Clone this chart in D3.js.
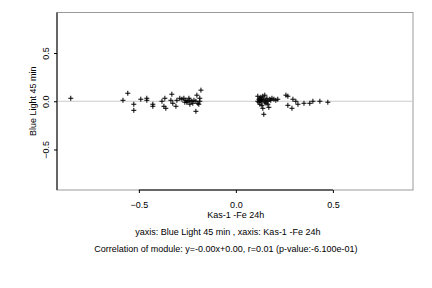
<!DOCTYPE html>
<html>
<head>
<meta charset="utf-8">
<script src="https://cdn.jsdelivr.net/npm/d3@7"></script>
<style>
  body { margin: 0; background: #fff; }
  svg { display: block; font-family: "Liberation Sans", Arial, sans-serif; }
  text { fill: #000; }
</style>
</head>
<body>
<svg id="chart" width="432" height="288"></svg>
<script>
const width = 432;
const height = 288;
const margin = { top: 12.5, right: 19, bottom: 98, left: 57 };

const xLabel = "Kas-1 -Fe 24h";
const yLabel = "Blue Light 45 min";
const subtitle = "yaxis: Blue Light 45 min , xaxis: Kas-1 -Fe 24h";
const corrText = "Correlation of module: y=-0.00x+0.00, r=0.01 (p-value:-6.100e-01)";

const xTicks = [-0.5, 0, 0.5];
const yTicks = [-0.5, 0, 0.5];

// [x, y] pairs
const leftCluster = [
  [-0.851, 0.031], [-0.582, 0.010], [-0.557, 0.083], [-0.526, -0.031], [-0.526, -0.094],
  [-0.490, 0.021], [-0.459, 0.031], [-0.459, 0.010], [-0.428, -0.031], [-0.428, -0.052],
  [-0.381, 0.000], [-0.366, 0.031], [-0.371, -0.052], [-0.361, -0.073], [-0.330, 0.073],
  [-0.335, 0.010], [-0.325, -0.021], [-0.309, -0.052], [-0.304, 0.010], [-0.289, 0.031],
  [-0.278, 0.021], [-0.268, 0.031], [-0.258, 0.010], [-0.247, 0.000], [-0.237, -0.031],
  [-0.237, 0.010], [-0.227, 0.000], [-0.222, -0.021], [-0.216, 0.010], [-0.206, 0.000],
  [-0.206, -0.104], [-0.201, 0.063], [-0.196, -0.021], [-0.191, -0.031], [-0.186, 0.031],
  [-0.180, 0.115], [-0.186, 0.000], [-0.242, 0.031], [-0.253, -0.010], [-0.263, -0.010]
];

const rightCluster = [
  [0.113, 0.052], [0.119, 0.021], [0.119, -0.010], [0.124, 0.031], [0.124, -0.031],
  [0.129, 0.010], [0.129, 0.042], [0.134, 0.000], [0.134, -0.042], [0.139, 0.052],
  [0.139, -0.073], [0.144, -0.135], [0.144, 0.021], [0.149, -0.010], [0.149, 0.063],
  [0.155, 0.010], [0.160, 0.031], [0.165, 0.000], [0.165, -0.031], [0.170, -0.063],
  [0.175, 0.021], [0.180, 0.010], [0.186, 0.031], [0.196, 0.021], [0.206, 0.010],
  [0.216, 0.021], [0.124, 0.010], [0.113, 0.000], [0.134, 0.021], [0.155, -0.021],
  [0.258, 0.063], [0.268, 0.052], [0.268, -0.042], [0.294, 0.021], [0.289, -0.073],
  [0.309, 0.000], [0.320, -0.031], [0.351, -0.021], [0.381, -0.021], [0.397, 0.000],
  [0.433, 0.000], [0.474, -0.010]
];

const points = leftCluster.concat(rightCluster);

const svg = d3.select("#chart");

const x = d3.scaleLinear()
  .domain([-0.922, 0.913])
  .range([margin.left, width - margin.right]);

const y = d3.scaleLinear()
  .domain([-0.92, 0.92])
  .range([height - margin.bottom, margin.top]);

const fontSize = 9;

// gray frame
svg.append("rect")
  .attr("x", margin.left)
  .attr("y", margin.top)
  .attr("width", width - margin.left - margin.right)
  .attr("height", height - margin.top - margin.bottom)
  .attr("fill", "none")
  .attr("stroke", "#9a9a9a")
  .attr("stroke-width", 1);

// zero line
svg.append("line")
  .attr("x1", margin.left).attr("x2", width - margin.right)
  .attr("y1", y(0)).attr("y2", y(0))
  .attr("stroke", "#cccccc")
  .attr("stroke-width", 1);

// y axis (black, full height)
const yAxis = svg.append("g")
  .attr("transform", `translate(${margin.left},0)`)
  .call(d3.axisLeft(y).tickValues(yTicks).tickSize(3).tickSizeOuter(0).tickFormat(d3.format(".1f")));
yAxis.select(".domain").remove();
yAxis.append("line")
  .attr("y1", margin.top).attr("y2", height - margin.bottom)
  .attr("stroke", "#000");
yAxis.selectAll(".tick text")
  .attr("font-size", fontSize)
  .attr("fill", "#000")
  .attr("text-anchor", "middle")
  .attr("x", 0).attr("dy", 0)
  .attr("y", 0)
  .attr("transform", "translate(-8,0) rotate(-90)");
yAxis.attr("font-family", null);

// x axis (black between outer ticks)
const xAxis = svg.append("g")
  .attr("transform", `translate(0,${height - margin.bottom})`)
  .call(d3.axisBottom(x).tickValues(xTicks).tickSize(3).tickSizeOuter(0).tickFormat(d3.format(".1f")));
xAxis.attr("font-family", null);
xAxis.select(".domain")
  .attr("d", `M${x(xTicks[0])},0H${x(xTicks[xTicks.length - 1])}`);
xAxis.selectAll(".tick text")
  .attr("font-size", fontSize)
  .attr("fill", "#000")
  .attr("y", 0)
  .attr("dy", 0)
  .attr("transform", "translate(0,18)");

// points as plus signs
svg.append("g")
  .selectAll("path")
  .data(points)
  .join("path")
  .attr("d", d => `M${x(d[0]) - 2.5},${y(d[1])}h5M${x(d[0])},${y(d[1]) - 2.5}v5`)
  .attr("stroke", "#000")
  .attr("stroke-width", 1)
  .attr("fill", "none");

// labels
svg.append("text")
  .attr("x", x(0))
  .attr("y", 218)
  .attr("text-anchor", "middle")
  .attr("font-size", fontSize)
  .text(xLabel);

svg.append("text")
  .attr("transform", `translate(36,${y(0)}) rotate(-90)`)
  .attr("text-anchor", "middle")
  .attr("font-size", fontSize)
  .text(yLabel);

svg.append("text")
  .attr("x", x(0) - 8)
  .attr("y", 235)
  .attr("text-anchor", "middle")
  .attr("font-size", fontSize)
  .text(subtitle);

svg.append("text")
  .attr("x", x(0) - 10)
  .attr("y", 252)
  .attr("text-anchor", "middle")
  .attr("font-size", fontSize)
  .text(corrText);
</script>
</body>
</html>
